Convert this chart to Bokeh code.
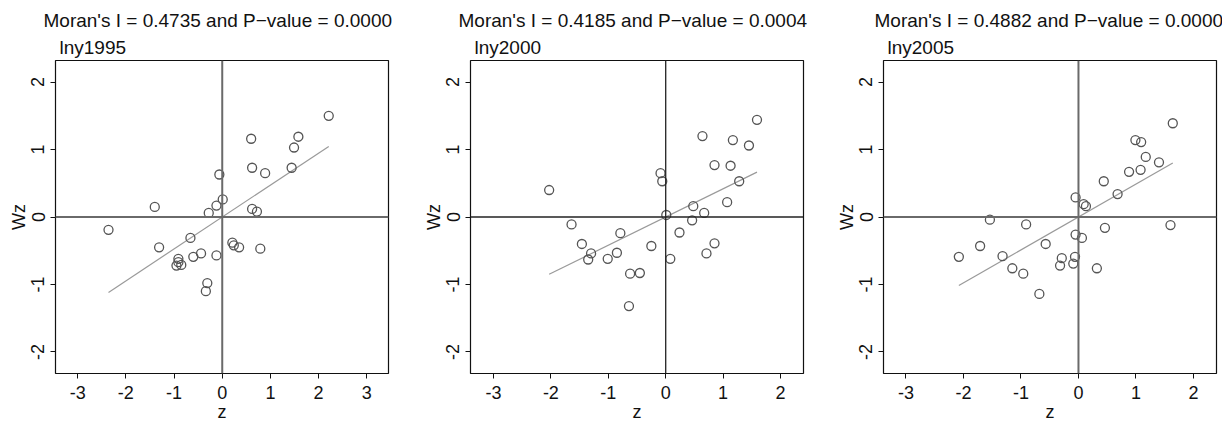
from bokeh.plotting import figure
from bokeh.layouts import row
from bokeh.models import Title, Range1d, FixedTicker, Span
from bokeh.embed import file_html
from bokeh.resources import INLINE

FONT = "Liberation Sans"

years = ["lny1995", "lny2000", "lny2005"]
morans_i = [0.4735, 0.4185, 0.4882]
p_values = [0.0000, 0.0004, 0.0000]

z_1995 = [2.21, 0.60, 1.58, 1.49, 0.62, 0.89, 1.44, -0.06, 0.01, -0.12, -0.28, -1.40, 0.62, 0.72, -2.36,
          -1.31, -0.66, -0.44, -0.60, -0.12, 0.21, 0.24, 0.35, 0.79, -0.91, -0.91, -0.95, -0.85, -0.31, -0.34]
wz_1995 = [1.50, 1.16, 1.19, 1.03, 0.73, 0.65, 0.73, 0.63, 0.26, 0.17, 0.06, 0.15, 0.12, 0.08, -0.19,
           -0.45, -0.31, -0.54, -0.59, -0.57, -0.38, -0.42, -0.45, -0.47, -0.62, -0.67, -0.72, -0.71, -0.98, -1.10]

z_2000 = [1.59, 0.64, 1.17, 1.45, 0.85, 1.13, 1.28, -0.09, -0.06, -2.03, 0.48, 1.07, 0.67, 0.01, 0.46,
          -1.64, 0.24, -0.79, -1.46, -1.30, -1.35, -1.01, -0.85, -0.25, 0.08, 0.85, 0.71, -0.62, -0.45, -0.64]
wz_2000 = [1.44, 1.20, 1.14, 1.06, 0.77, 0.76, 0.53, 0.65, 0.53, 0.40, 0.16, 0.22, 0.06, 0.03, -0.05,
           -0.11, -0.23, -0.24, -0.40, -0.54, -0.63, -0.62, -0.53, -0.43, -0.62, -0.39, -0.54, -0.84, -0.83, -1.32]

z_2005 = [1.64, 0.99, 1.09, 1.17, 1.40, 0.88, 1.08, 0.44, 0.68, -0.05, 0.09, 0.13, -1.54, -0.91, 0.46,
          1.60, -0.05, 0.06, -0.57, -1.71, -2.08, -1.32, -1.15, -0.96, -0.29, -0.32, -0.09, -0.06, 0.32, -0.68]
wz_2005 = [1.39, 1.14, 1.11, 0.89, 0.81, 0.67, 0.70, 0.53, 0.34, 0.29, 0.19, 0.16, -0.04, -0.11, -0.16,
           -0.12, -0.26, -0.31, -0.40, -0.43, -0.59, -0.58, -0.76, -0.84, -0.61, -0.72, -0.69, -0.59, -0.76, -1.14]

x_ranges = [(-3.46, 3.45), (-3.40, 2.40), (-3.39, 2.40)]
y_range = (-2.32, 2.32)
x_ticks = [[-3, -2, -1, 0, 1, 2, 3], [-3, -2, -1, 0, 1, 2], [-3, -2, -1, 0, 1, 2]]
y_ticks = [-2, -1, 0, 1, 2]
zero_line_colors = ["#6a6a6a", "#222222", "#6a6a6a"]
zero_line_widths = [2, 1.3, 2]

zs = [z_1995, z_2000, z_2005]
wzs = [wz_1995, wz_2000, wz_2005]

left_borders = [55, 48, 48]
right_borders = [32, 30, 6]
title_offsets = [-12, -12, -9]

figs = []
for i in range(3):
    z, wz = zs[i], wzs[i]
    p = figure(frame_width=333, frame_height=313,
               x_range=Range1d(*x_ranges[i]), y_range=Range1d(*y_range),
               output_backend="svg", toolbar_location=None,
               min_border_left=left_borders[i], min_border_right=right_borders[i],
               min_border_top=60, min_border_bottom=40,
               background_fill_color="white", border_fill_color="white")
    p.outline_line_color = "#111111"
    p.outline_line_width = 1.2
    p.grid.visible = False

    sub = Title(text=years[i], align="left", text_font=FONT, text_font_size="19px",
                text_font_style="normal", text_color="#111111", standoff=6, offset=4)
    main = Title(text="Moran's I = %.4f and P\u2212value = %.4f" % (morans_i[i], p_values[i]),
                 align="left", offset=title_offsets[i], text_font=FONT, text_font_size="19px",
                 text_font_style="normal", text_color="#111111", standoff=2)
    p.add_layout(sub, "above")
    p.add_layout(main, "above")

    p.add_layout(Span(location=0, dimension="width", line_color=zero_line_colors[i],
                      line_width=zero_line_widths[i]))
    p.add_layout(Span(location=0, dimension="height", line_color=zero_line_colors[i],
                      line_width=zero_line_widths[i]))

    x0, x1 = min(z), max(z)
    p.line([x0, x1], [morans_i[i] * x0, morans_i[i] * x1], line_color="#9a9a9a", line_width=1.2)

    p.scatter(z, wz, marker="circle", size=9, fill_color=None, line_color="#555555", line_width=1.3)

    for ax in (p.xaxis[0], p.yaxis[0]):
        ax.major_label_text_font = FONT
        ax.major_label_text_font_size = "18px"
        ax.major_label_text_color = "#111111"
        ax.axis_label_text_font = FONT
        ax.axis_label_text_font_size = "18px"
        ax.axis_label_text_font_style = "normal"
        ax.axis_label_text_color = "#111111"
        ax.axis_line_color = None
        ax.major_tick_line_color = "#111111"
        ax.major_tick_in = 0
        ax.major_tick_out = 5
        ax.minor_tick_line_color = None
    p.xaxis[0].ticker = FixedTicker(ticks=x_ticks[i])
    p.xaxis[0].major_label_overrides = {t: str(t) for t in x_ticks[i]}
    p.yaxis[0].ticker = FixedTicker(ticks=y_ticks)
    p.yaxis[0].major_label_overrides = {t: str(t) for t in y_ticks}
    p.yaxis[0].major_label_orientation = "vertical"
    p.xaxis[0].axis_label = "z"
    p.yaxis[0].axis_label = "Wz"
    p.xaxis[0].major_label_standoff = 7
    p.yaxis[0].major_label_standoff = 6
    p.xaxis[0].axis_label_standoff = 0
    p.yaxis[0].axis_label_standoff = 0
    figs.append(p)

layout = row(*figs, spacing=0)
open("out.html", "w").write(file_html(layout, INLINE))
